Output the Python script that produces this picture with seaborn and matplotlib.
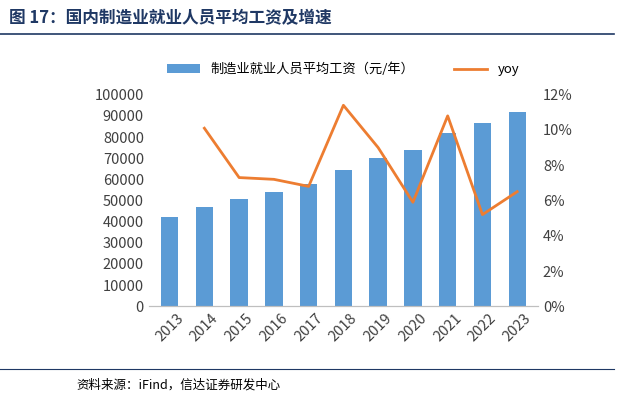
import matplotlib
matplotlib.use("Agg")
import matplotlib.pyplot as plt
import seaborn as sns
import pandas as pd
from matplotlib.ticker import PercentFormatter

years = ["2013","2014","2015","2016","2017","2018","2019","2020","2021","2022","2023"]
wages = [42000,46800,50500,54000,57800,64600,70000,74000,82000,86800,92000]
yoy = [None,10.1,7.3,7.2,6.8,11.4,9.0,5.9,10.8,5.2,6.5]

plt.rcParams["font.family"] = ["Noto Sans CJK SC"]
fig = plt.figure(figsize=(6.33,4.03), dpi=100)
fig.text(0.015,0.955,"图 17：国内制造业就业人员平均工资及增速",fontsize=12,fontweight="bold",color="#1f3864",va="center")
fig.add_artist(plt.Line2D([0.0,0.97],[0.915,0.915],color="#1f3864",lw=1.2))
fig.add_artist(plt.Line2D([0.0,0.97],[0.085,0.085],color="#1f3864",lw=0.8))
fig.text(0.12,0.045,"资料来源：iFind，信达证券研发中心",fontsize=9,style="italic",va="center")

ax = fig.add_axes([0.235,0.24,0.615,0.525])
df = pd.DataFrame({"year":years,"wage":wages,"yoy":yoy})
sns.barplot(data=df,x="year",y="wage",color="#5b9bd5",saturation=1,width=0.5,ax=ax,label="制造业就业人员平均工资（元/年）")
ax.set_ylim(0,100000); ax.set_yticks(range(0,100001,10000))
ax.set_xlabel(""); ax.set_ylabel("")
ax2 = ax.twinx()
d2 = df.dropna()
ax2.plot(list(d2.index), d2["yoy"], color="#ed7d31", lw=2, label="yoy")
ax2.set_ylim(0,12); ax2.set_yticks(range(0,13,2))
ax2.yaxis.set_major_formatter(PercentFormatter(decimals=0))
ax.set_xlim(-0.6,10.6)
for a in (ax,ax2):
    for s in ["top","left","right"]:
        a.spines[s].set_visible(False)
    a.spines["bottom"].set_color("#bfbfbf")
    a.tick_params(length=0, labelsize=10.5, colors="#404040")
ax.tick_params(axis="x", rotation=45)
for l in ax.get_xticklabels(): l.set_ha("center")
h1,l1 = ax.get_legend_handles_labels(); h2,l2 = ax2.get_legend_handles_labels()
ax.legend(h1+h2,l1+l2,loc="lower center",bbox_to_anchor=(0.5,1.03),ncol=2,frameon=False,fontsize=9.5,columnspacing=3,handlelength=2.5)
fig.savefig("out.png",dpi=100)
